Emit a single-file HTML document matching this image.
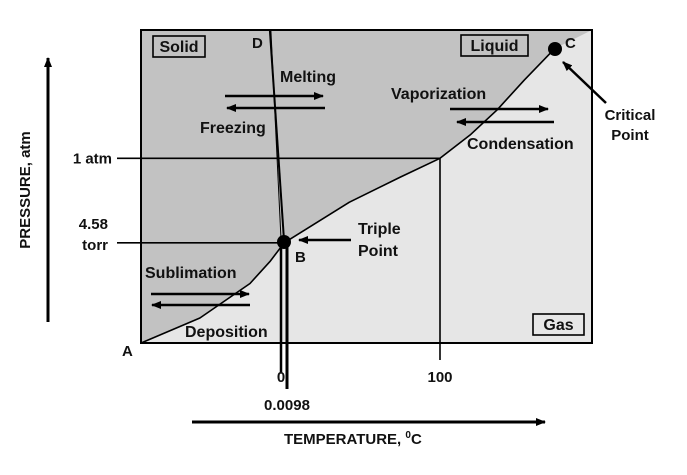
<!DOCTYPE html>
<html><head><meta charset="utf-8"><style>
body{margin:0;background:#fff;}
svg text{font-family:"Liberation Sans",Arial,sans-serif;font-weight:bold;fill:#111;}
</style></head><body>
<svg id="chart" width="687" height="470" viewBox="0 0 687 470"></svg>
<script>
// schematic units: temperature axis (0 and 100 marks), pressure axis (0 bottom .. 100 top)
const curveT = [-88, -51, -19.5, -7, 2, 43, 75, 100, 119, 136, 153, 172];
const curveP = [0, 8, 19, 26, 32, 45, 53, 59, 66.5, 74.5, 84, 94];
const meltT = [-7, 2];
const meltP = [100, 32];
const tickT = [0, 100];
const tickLabels = ['0', '100'];
const pressLevels = [59, 32];
const pressLabels = ['1 atm', '4.58'];

const X0=141, X1=592, Y0=343, Y1=30;
function x(t){return 281 + t*1.59;}
function y(p){return Y0 - p*(Y0-Y1)/100;}
const NS='http://www.w3.org/2000/svg';
const svg=document.getElementById('chart');
function mk(tag,attrs,parent){const e=document.createElementNS(NS,tag);for(const k in attrs)e.setAttribute(k,attrs[k]);(parent||svg).appendChild(e);return e;}

const bg=mk('rect',{x:X0,y:Y1,width:X1-X0,height:Y0-Y1,fill:'#e6e6e6'});


let pts=curveT.map((t,i)=>x(t).toFixed(1)+','+y(curveP[i]).toFixed(1)).join(' ');
const dark=mk('polygon',{points:pts+' '+X1+','+Y1+' '+X0+','+Y1,fill:'#c2c2c2'});



function line(x1,y1,x2,y2,w,name){const l=mk('line',{x1,y1,x2,y2,stroke:'#000','stroke-width':w});return l;}
pressLevels.forEach((p,i)=>{
  const xe = i==0 ? x(100) : x(2);
  line(117,y(p),xe,y(p),1.6,'pressure-guide-'+i);
});
line(x(100),y(59),x(100),360,1.6,'guide-100c');
line(281,y(32),281,373,2.5,'guide-0c');
line(287,y(32),287,389,3,'guide-00098c');

const cv=mk('polyline',{points:pts,fill:'none',stroke:'#000','stroke-width':1.6,'stroke-linejoin':'round'});


const ml=mk('polyline',{points:x(meltT[0])+','+y(meltP[0])+' '+x(meltT[1])+','+y(meltP[1]),fill:'none',stroke:'#000','stroke-width':2});


mk('line',{x1:x(meltT[0])+1,y1:y(meltP[0]),x2:x(meltT[1])-3,y2:y(meltP[1]),stroke:'#000','stroke-width':1});

const box=mk('rect',{x:X0,y:Y1,width:X1-X0,height:Y0-Y1,fill:'none',stroke:'#000','stroke-width':2});



const tp=mk('circle',{cx:284,cy:242,r:7,fill:'#000'});


const cp=mk('circle',{cx:555,cy:49,r:7,fill:'#000'});



mk('defs',{}).innerHTML='<marker id="ah" markerWidth="10" markerHeight="8" refX="9" refY="4" orient="auto" markerUnits="userSpaceOnUse"><path d="M0,0 L10,4 L0,8z" fill="#000"/></marker>';
function arrow(x1,y1,x2,y2,w,name){const a=line(x1,y1,x2,y2,w,name);a.setAttribute('marker-end','url(#ah)');return a;}
arrow(225,96,323,96,2.5,'melting-arrow');
arrow(325,108,227,108,2.5,'freezing-arrow');
arrow(450,109,548,109,2.5,'vaporization-arrow');
arrow(554,122,457,122,2.5,'condensation-arrow');
arrow(151,294,249,294,2.5,'sublimation-arrow');
arrow(250,305,152,305,2.5,'deposition-arrow');
arrow(351,240,299,240,2.5,'triple-point-arrow');
arrow(606,103,563,62,2.5,'critical-point-arrow');
arrow(48,322,48,58,3,'pressure-axis-arrow');
arrow(192,422,545,422,3,'temperature-axis-arrow');

function txt(s,xx,yy,size,anchor,name){const t=mk('text',{x:xx,y:yy,'font-size':size,'text-anchor':anchor||'start'});t.textContent=s;return t;}
function boxed(s,xx,yy,w,name){const r=mk('rect',{x:xx,y:yy,width:w,height:21,fill:'none',stroke:'#000','stroke-width':1.6});txt(s,xx+w/2,yy+16,16,'middle',name);}
boxed('Solid',153,36,52,'solid-label');
boxed('Liquid',461,35,67,'liquid-label');
boxed('Gas',533,314,51,'gas-label');
txt('D',252,48,15,'start','point-d');
txt('C',565,48,15,'start','point-c');
txt('A',122,356,15,'start','point-a');
txt('B',295,262,15,'start','point-b');
txt('Melting',280,82,16,'start','melting-label');
txt('Freezing',200,133,16,'start','freezing-label');
txt('Vaporization',391,99,16,'start','vaporization-label');
txt('Condensation',467,149,16,'start','condensation-label');
txt('Sublimation',145,278,16,'start','sublimation-label');
txt('Deposition',185,337,16,'start','deposition-label');
txt('Triple',358,234,16,'start','triple-label');
txt('Point',358,256,16,'start','triple-point-label');
txt('Critical',630,120,15,'middle','critical-label');
txt('Point',630,140,15,'middle','critical-point-label');
pressLevels.forEach((p,i)=>{txt(pressLabels[i],i==0?112:108,y(p)+(i==0?5:-14),15,'end','pressure-tick-'+i);});
txt('torr',108,y(32)+7,15,'end','torr-label');
tickT.forEach((t,i)=>{txt(tickLabels[i],x(t),382,15,'middle','temp-tick-'+i);});
txt('0.0098',287,410,15,'middle','temp-tick-00098');
const tl=txt('TEMPERATURE,  ',284,444,15,'start','x-axis-title');
const sp=mk('tspan',{'font-size':10,dy:-6});sp.textContent='0';tl.appendChild(sp);
const sp2=mk('tspan',{dy:6});sp2.textContent='C';tl.appendChild(sp2);
const yt=txt('PRESSURE, atm',0,0,15,'middle','y-axis-title');
yt.setAttribute('transform','translate(30,190) rotate(-90)');
</script>
</body></html>
